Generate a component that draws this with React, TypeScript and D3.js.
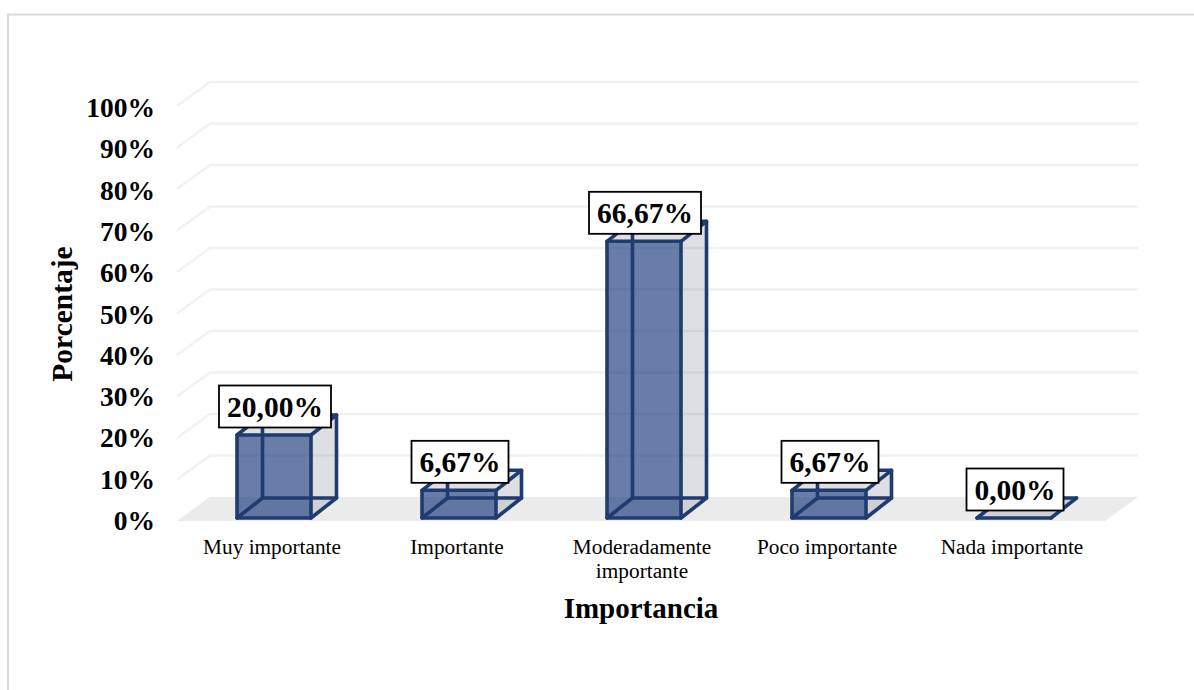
import React from "react";
import * as d3 from "d3";

const categories: string[][] = [["Muy importante"], ["Importante"], ["Moderadamente", "importante"], ["Poco importante"], ["Nada importante"]];
const values = [20, 6.67, 66.67, 6.67, 0];
const valueLabels = ["20,00%", "6,67%", "66,67%", "6,67%", "0,00%"];
const ticks = [0, 10, 20, 30, 40, 50, 60, 70, 80, 90, 100];
const yTitle = "Porcentaje";
const xTitle = "Importancia";

const W = 1194, H = 690;
const FONT = "'Liberation Serif', 'Times New Roman', serif";
const NAVY = "#1c3a7c";
const LINE = "#1f3b70";

const xBand = d3.scaleBand<number>().domain(d3.range(5)).range([181.500, 1106.500]).paddingInner(0.6).paddingOuter(0.3);
// front plane of the bars
const yBar = d3.scaleLinear().domain([0, 100]).range([518, 103]);
// back wall
const yBack = d3.scaleLinear().domain([0, 100]).range([497, 82]);
// front edge of the floor
const yFront = d3.scaleLinear().domain([0, 100]).range([521, 106]);
// tick label baselines
const yTick = d3.scaleLinear().domain([0, 100]).range([530, 117]);

const floorL = 177, floorR = 1105, dx = 33;
const bdx = 25.5, bdy = 20;

export default function App() {
  const bw = xBand.bandwidth();
  return (
    <svg width={W} height={H} style={{ position: "fixed", left: 0, top: 0, background: "#fff" }} fontFamily={FONT}>
      <path d={`M8 690V14.500H1194`} fill="none" stroke="#d9d9d9" strokeWidth={2} />
      {/* floor */}
      <polygon points={`${floorL},${yFront(0)} ${floorR},${yFront(0)} ${floorR + dx},${yBack(0)} ${floorL + dx},${yBack(0)}`} fill="#ebebeb" />
      {/* grid */}
      {ticks.filter(t => t > 0).map(t => (
        <path key={t} d={`M${floorL},${yFront(t)}L${floorL + dx},${yBack(t)}H${floorR + dx}`} fill="none" stroke="#f1f1f1" strokeWidth={2.4} />
      ))}
      {/* ticks */}
      {ticks.map(t => (
        <text key={t} x={155} y={yTick(t)} textAnchor="end" fontSize={27.500} fontWeight="bold" fill="#000">{t}%</text>
      ))}
      {/* bars */}
      {values.map((v, i) => {
        const x0 = xBand(i)!, x1 = x0 + bw, y0 = yBar(0), y1 = yBar(v);
        const bx0 = x0 + bdx, bx1 = x1 + bdx, by0 = y0 - bdy, by1 = y1 - bdy;
        return (
          <g key={i} strokeLinejoin="round" strokeLinecap="round">
            <polygon points={`${x1},${y0} ${bx1},${by0} ${bx1},${by1} ${x1},${y1}`} fill="#7b8090" fillOpacity={0.25} />
            <polygon points={`${x0},${y1} ${x1},${y1} ${bx1},${by1} ${bx0},${by1}`} fill="#7b8090" fillOpacity={0.25} />
            <polygon points={`${x0},${y0} ${x1},${y0} ${x1},${y1} ${x0},${y1}`} fill={NAVY} fillOpacity={0.66} />
            <g fill="none" stroke={LINE} strokeWidth={3.600}>
              <path d={`M${bx0},${by0}V${by1}H${bx1}V${by0}H${bx0}`} />
              <path d={`M${x0},${y0}L${bx0},${by0}M${x1},${y0}L${bx1},${by0}M${x0},${y1}L${bx0},${by1}M${x1},${y1}L${bx1},${by1}`} />
              <path d={`M${x0},${y0}H${x1}V${y1}H${x0}Z`} />
            </g>
          </g>
        );
      })}
      {/* value labels */}
      {values.map((v, i) => {
        const cx = xBand(i)! + bw / 2 + 1;
        const yTop = yBar(v);
        const boxW = valueLabels[i].length === 6 ? 112 : 97;
        const bottom = yTop - 7.500;
        return (
          <g key={i}>
            <rect x={cx - boxW / 2} y={bottom - 42} width={boxW} height={42} fill="#fff" stroke="#000" strokeWidth={1.800} />
            <text x={cx} y={bottom - 11} textAnchor="middle" fontSize={29.500} fontWeight="bold" fill="#000">{valueLabels[i]}</text>
          </g>
        );
      })}
      {/* categories */}
      {categories.map((lines, i) => (
        <text key={i} y={553.500} textAnchor="middle" fontSize={21.300} fill="#000">
          {lines.map((l, j) => <tspan key={j} x={xBand(i)! + bw / 2 - 2} dy={j ? 24 : 0}>{l}</tspan>)}
        </text>
      ))}
      <text x={641} y={618} textAnchor="middle" fontSize={29} fontWeight="bold" fill="#000">{xTitle}</text>
      <text transform="translate(72,314) rotate(-90)" textAnchor="middle" fontSize={29.500} fontWeight="bold" fill="#000">{yTitle}</text>
    </svg>
  );
}
